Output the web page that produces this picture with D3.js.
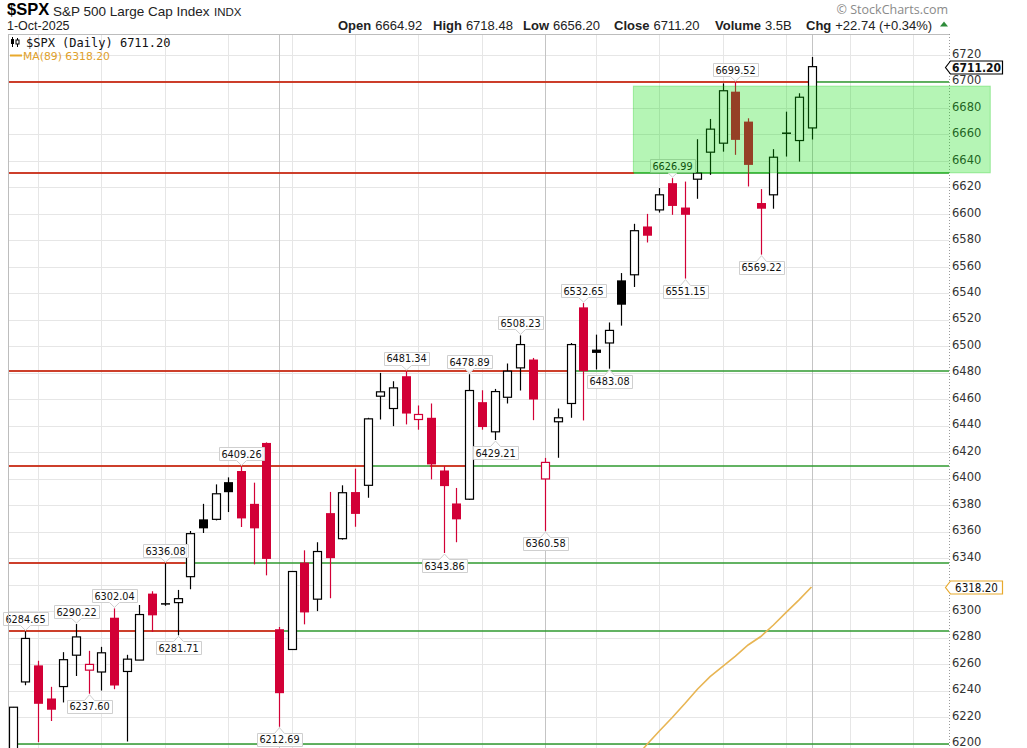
<!DOCTYPE html>
<html>
<head>
<meta charset="utf-8">
<script src="https://cdn.jsdelivr.net/npm/d3@7"></script>
<style>
  body { margin: 0; background: #fff; }
  svg { display: block; }
</style>
</head>
<body>
<svg id="chart" width="1027" height="748"></svg>
<script>
// daily candles, 2-Jul-2025 .. 1-Oct-2025
const dates = [
  "2025-07-02","2025-07-03","2025-07-07","2025-07-08","2025-07-09","2025-07-10","2025-07-11",
  "2025-07-14","2025-07-15","2025-07-16","2025-07-17","2025-07-18","2025-07-21","2025-07-22",
  "2025-07-23","2025-07-24","2025-07-25","2025-07-28","2025-07-29","2025-07-30","2025-07-31",
  "2025-08-01","2025-08-04","2025-08-05","2025-08-06","2025-08-07","2025-08-08","2025-08-11",
  "2025-08-12","2025-08-13","2025-08-14","2025-08-15","2025-08-18","2025-08-19","2025-08-20",
  "2025-08-21","2025-08-22","2025-08-25","2025-08-26","2025-08-27","2025-08-28","2025-08-29",
  "2025-09-02","2025-09-03","2025-09-04","2025-09-05","2025-09-08","2025-09-09","2025-09-10",
  "2025-09-11","2025-09-12","2025-09-15","2025-09-16","2025-09-17","2025-09-18","2025-09-19",
  "2025-09-22","2025-09-23","2025-09-24","2025-09-25","2025-09-26","2025-09-29","2025-09-30",
  "2025-10-01"
];
// empty trading days to the right of the last candle
const futureDates = ["2025-10-02","2025-10-03","2025-10-06","2025-10-07","2025-10-08",
  "2025-10-09","2025-10-10","2025-10-13","2025-10-14","2025-10-15"];

const opens = [
  6191.0, 6246.5, 6259.0, 6234.0, 6243.0, 6266.7, 6255.4,
  6254.0, 6295.0, 6254.4, 6263.0, 6313.2, 6306.0, 6306.4,
  6326.0, 6369.3, 6369.3, 6397.4, 6405.8, 6381.0, 6427.0,
  6286.3, 6271.0, 6336.6, 6309.0, 6374.0, 6354.7, 6389.9,
  6395.0, 6462.3, 6453.0, 6477.4, 6444.7, 6446.0, 6406.2,
  6381.3, 6384.5, 6457.8, 6435.4, 6461.5, 6483.7, 6490.0,
  6399.8, 6443.0, 6456.8, 6529.4, 6497.5, 6502.5, 6549.8,
  6554.0, 6590.5, 6603.0, 6623.2, 6604.8, 6626.2, 6646.6,
  6653.4, 6692.3, 6669.7, 6608.2, 6614.4, 6661.5, 6655.4,
  6664.92
];
const highs = [
  6227.6, 6284.65, 6262.5, 6242.8, 6269.0, 6290.22, 6270.0,
  6273.0, 6302.04, 6267.0, 6304.6, 6315.0, 6336.08, 6316.0,
  6360.5, 6381.0, 6395.7, 6401.0, 6409.26, 6397.0, 6427.4,
  6288.0, 6330.0, 6345.9, 6352.0, 6390.0, 6395.0, 6407.6,
  6446.0, 6479.9, 6473.6, 6481.34, 6455.3, 6456.8, 6409.5,
  6393.0, 6478.89, 6466.8, 6467.8, 6487.0, 6508.23, 6491.2,
  6415.7, 6453.0, 6502.5, 6532.65, 6508.8, 6518.0, 6555.3,
  6592.5, 6600.0, 6619.5, 6626.99, 6624.4, 6656.4, 6671.7,
  6698.6, 6699.52, 6672.2, 6618.7, 6648.9, 6677.2, 6691.1,
  6718.48
];
const lows = [
  6187.0, 6244.0, 6201.0, 6217.0, 6231.0, 6251.0, 6237.60,
  6240.0, 6241.0, 6201.5, 6263.0, 6284.3, 6304.0, 6281.71,
  6316.5, 6359.0, 6368.5, 6374.8, 6363.5, 6335.3, 6327.0,
  6212.69, 6271.0, 6290.0, 6300.0, 6309.7, 6354.0, 6363.7,
  6385.6, 6444.7, 6439.7, 6441.0, 6437.0, 6399.5, 6343.86,
  6352.0, 6384.0, 6437.0, 6429.21, 6456.8, 6466.6, 6444.2,
  6360.58, 6415.8, 6446.0, 6444.0, 6482.5, 6483.08, 6515.6,
  6544.8, 6578.4, 6601.0, 6599.3, 6551.15, 6611.4, 6629.5,
  6647.0, 6644.6, 6620.7, 6569.22, 6603.9, 6643.3, 6639.5,
  6656.20
];
const closes = [
  6227.4, 6279.35, 6229.98, 6225.5, 6263.3, 6280.5, 6259.75,
  6268.5, 6243.8, 6263.7, 6297.4, 6296.8, 6305.6, 6309.4,
  6358.5, 6362.5, 6388.6, 6389.8, 6370.0, 6362.5, 6339.4,
  6238.0, 6329.9, 6299.0, 6345.0, 6340.0, 6389.4, 6373.4,
  6445.2, 6465.6, 6468.6, 6449.2, 6448.5, 6410.8, 6394.4,
  6369.3, 6466.6, 6439.0, 6465.8, 6481.2, 6501.3, 6459.8,
  6412.3, 6446.0, 6501.3, 6481.2, 6495.0, 6512.0, 6531.4,
  6587.3, 6583.5, 6614.4, 6606.0, 6599.3, 6630.8, 6664.0,
  6693.0, 6655.9, 6637.0, 6603.9, 6642.8, 6661.0, 6688.1,
  6711.20
];
const prevClose = 6198.01;

// 89-day moving average (only the visible tail)
const ma89 = [
  null, null, null, null, null, null, null, null, null, null,
  null, null, null, null, null, null, null, null, null, null,
  null, null, null, null, null, null, null, null, null, null,
  null, null, null, null, null, null, null, null, null, null,
  null, null, null, null, null, null, null, null, null,
  6188.0, 6199.0, 6209.5, 6219.5, 6230.0, 6241.0, 6250.5,
  6258.3, 6266.0, 6274.4, 6280.8, 6289.5, 6299.0, 6308.3,
  6318.20
];

const yTicks = [6200, 6220, 6240, 6260, 6280, 6300, 6320, 6340, 6360, 6380, 6400,
  6420, 6440, 6460, 6480, 6500, 6520, 6540, 6560, 6580, 6600, 6620, 6640, 6660,
  6680, 6700, 6720];

// support / resistance levels
const levels = [6699.52, 6631.0, 6481.34, 6409.26, 6336.08, 6284.65, 6200.0];
// red stretches on those levels: [level, from index, to index]
const redStretches = [
  [6699.52, -0.4, 63], [6631.0, -0.4, 49], [6481.34, -0.4, 44.1],
  [6409.26, -0.4, 28.2], [6409.26, 32.9, 36.1], [6336.08, -0.4, 13.6],
  [6284.65, -0.4, 21]
];
// highlighted zone
const zoneLow = 6631.0, zoneHigh = 6696.5;
const zoneFrom = 48.95, zoneTo = 77.1;

// labelled highs and lows: [candle index, which]
const callouts = [
  [1, "high"], [5, "high"], [6, "low"], [8, "high"], [12, "high"], [13, "low"],
  [18, "high"], [21, "low"], [31, "high"], [34, "low"], [36, "high"], [38, "low"],
  [40, "high"], [42, "low"], [45, "high"], [47, "low"], [52, "high"], [53, "low"],
  [57, "high"], [59, "low"]
];

const svg = d3.select("#chart");
const plot = { left: 8, right: 949, top: 34, bottom: 748 };

const x = d3.scaleLinear().domain([0, dates.length - 1]).range([12.7, 811.5]);
const y = d3.scaleLinear().domain([6200, 6720]).range([743.5, 55]);
const px = v => Math.round(v) + 0.5;

const RED = "#d20036";
const GREEN_LINE = "#2f9a2f";
const RED_LINE = "#f01818";

svg.append("defs").append("clipPath").attr("id", "clip")
  .append("rect")
  .attr("x", plot.left).attr("y", plot.top)
  .attr("width", plot.right - plot.left).attr("height", plot.bottom - plot.top);

let g = svg.append("g").attr("clip-path", "url(#clip)");

// horizontal grid
g.selectAll(".hgrid").data(yTicks).enter().append("line")
  .attr("class", "hgrid")
  .attr("x1", plot.left).attr("x2", plot.right)
  .attr("y1", d => px(y(d))).attr("y2", d => px(y(d)))
  .style("stroke", "#e6e6e6");

// vertical grid: a line at each new week, darker at each new month
const parse = d3.timeParse("%Y-%m-%d");
const allDates = dates.concat(futureDates);
let vlines = [];
allDates.forEach((d, i) => {
  if (i === 0) return;
  let a = parse(allDates[i - 1]), b = parse(d);
  if (b.getMonth() !== a.getMonth()) vlines.push({ i: i, month: true });
  else if (b.getDay() < a.getDay()) vlines.push({ i: i, month: false });
});
g.selectAll(".vgrid").data(vlines).enter().append("line")
  .attr("class", "vgrid")
  .attr("x1", d => px(x(d.i))).attr("x2", d => px(x(d.i)))
  .attr("y1", plot.top).attr("y2", plot.bottom)
  .style("stroke", d => d.month ? "#c4c4c4" : "#e6e6e6");

// level lines
g.selectAll(".level").data(levels).enter().append("line")
  .attr("class", "level")
  .attr("x1", plot.left).attr("x2", plot.right)
  .attr("y1", d => Math.round(y(d))).attr("y2", d => Math.round(y(d)))
  .style("stroke", GREEN_LINE).style("stroke-width", 1.6);
g.selectAll(".redlevel").data(redStretches).enter().append("line")
  .attr("class", "redlevel")
  .attr("x1", d => Math.max(plot.left, x(d[1]))).attr("x2", d => x(d[2]))
  .attr("y1", d => Math.round(y(d[0]))).attr("y2", d => Math.round(y(d[0])))
  .style("stroke", RED_LINE).style("stroke-width", 1.6);

// candles
const candles = dates.map((d, i) => {
  let pc = i === 0 ? prevClose : closes[i - 1];
  return {
    i: i, o: opens[i], h: highs[i], l: lows[i], c: closes[i],
    color: closes[i] < pc ? RED : "#000",
    hollow: closes[i] >= opens[i]
  };
});

let cg = g.selectAll(".candle").data(candles).enter().append("g").attr("class", "candle");
cg.append("line")
  .attr("x1", d => px(x(d.i))).attr("x2", d => px(x(d.i)))
  .attr("y1", d => y(d.h)).attr("y2", d => y(d.l))
  .style("stroke", d => d.color).style("stroke-width", 1.2);
cg.append("rect")
  .attr("x", d => d.hollow ? Math.round(x(d.i)) - 3.5 : Math.round(x(d.i)) - 4)
  .attr("width", d => d.hollow ? 8 : 9)
  .attr("y", d => y(Math.max(d.o, d.c)))
  .attr("height", d => Math.max(1.5, y(Math.min(d.o, d.c)) - y(Math.max(d.o, d.c))))
  .style("fill", d => d.hollow ? "#fff" : d.color)
  .style("stroke", d => d.hollow ? d.color : "none")
  .style("stroke-width", 1.2);

// moving average
const maLine = d3.line()
  .defined(d => d != null)
  .x((d, i) => x(i))
  .y(d => y(d));
g.append("path").datum(ma89)
  .attr("d", maLine)
  .style("fill", "none").style("stroke", "#e8b553").style("stroke-width", 1.6);

// callout boxes on highs and lows
let lg = svg.append("g");
callouts.forEach(function (c) {
  let i = c[0], isHigh = c[1] === "high";
  let v = isHigh ? highs[i] : lows[i];
  let cx = Math.round(x(i)) + 0.5;
  let tip = isHigh ? y(v) - 1 : y(v) + 1;
  let top, bottom;
  if (isHigh) { bottom = tip - 5; top = bottom - 13; }
  else { top = tip + 5; bottom = top + 13; }
  let grp = lg.append("g");
  let path = grp.append("path");
  let t = grp.append("text")
    .attr("x", cx).attr("y", top + 10.5)
    .attr("text-anchor", "middle")
    .style("font-family", "'DejaVu Sans Condensed', 'DejaVu Sans', sans-serif")
    .style("font-size", "10.8px").style("fill", "#111")
    .text(v.toFixed(2));
  let w = t.node().getComputedTextLength() + 5;
  let x0 = Math.round(cx - w / 2) + 0.5, x1 = Math.round(cx + w / 2) + 0.5;
  top = Math.round(top) + 0.5; bottom = Math.round(bottom) + 0.5;
  let d;
  if (isHigh) {
    d = `M${x0},${top}H${x1}V${bottom}H${cx + 5}L${cx},${tip}L${cx - 5},${bottom}H${x0}Z`;
  } else {
    d = `M${x0},${top}H${cx - 5}L${cx},${tip}L${cx + 5},${top}H${x1}V${bottom}H${x0}Z`;
  }
  path.attr("d", d).style("fill", "rgba(255,255,255,0.92)").style("stroke", "#cfcfcf");
});

// frame and right axis
svg.append("line").attr("x1", plot.left).attr("x2", plot.right)
  .attr("y1", plot.top + 0.5).attr("y2", plot.top + 0.5).style("stroke", "#bdbdbd");
svg.append("line").attr("x1", plot.left + 0.5).attr("x2", plot.left + 0.5)
  .attr("y1", plot.top).attr("y2", plot.bottom).style("stroke", "#bdbdbd");
svg.append("line").attr("x1", plot.right + 0.5).attr("x2", plot.right + 0.5)
  .attr("y1", plot.top).attr("y2", plot.bottom)
  .style("stroke", "#9a9a9a").style("stroke-dasharray", "1,2");

// tick labels sitting under a price tag are hidden, as on the original
const tagValues = [closes[closes.length - 1], ma89[ma89.length - 1]];
const labelTicks = yTicks.filter(t => !tagValues.some(v => Math.abs(y(t) - y(v)) < 6));

let yAxis = d3.axisRight(y).tickValues(labelTicks).tickSize(0).tickPadding(3)
  .tickFormat(d3.format("d"));
let ag = svg.append("g").attr("transform", `translate(${plot.right},-1.5)`).call(yAxis);
ag.select(".domain").remove();
ag.selectAll("text")
  .style("font-family", "'DejaVu Sans', sans-serif")
  .style("font-size", "11.5px").style("fill", "#333");

// highlighted zone on top, translucent
svg.append("rect")
  .attr("x", x(zoneFrom)).attr("width", x(zoneTo) - x(zoneFrom))
  .attr("y", y(zoneHigh)).attr("height", y(zoneLow) - y(zoneHigh))
  .style("fill", "rgb(0,222,0)").style("fill-opacity", 0.29)
  .style("stroke", "rgb(0,200,0)").style("stroke-opacity", 0.3);

// price tags on the axis
function tag(v, label, border, bold) {
  let yc = Math.round(y(v)) + 0.5;
  let x0 = 945.5, x1 = 1002.5;
  svg.append("path")
    .attr("d", `M${x0},${yc}L${x0 + 5},${yc - 6.5}H${x1}V${yc + 6.5}H${x0 + 5}Z`)
    .style("fill", "#fff").style("stroke", border).style("stroke-width", 1.2);
  svg.append("text")
    .attr("x", (x0 + 5 + x1) / 2).attr("y", yc + 4.5)
    .attr("text-anchor", "middle")
    .style("font-family", "'DejaVu Sans Condensed', 'DejaVu Sans', sans-serif")
    .style("font-size", bold ? "12px" : "11.5px")
    .style("font-weight", bold ? "bold" : "normal")
    .style("fill", "#111")
    .text(label);
}
tag(tagValues[0], tagValues[0].toFixed(2), "#000", true);
tag(tagValues[1], tagValues[1].toFixed(2), "#e8a92c", false);

// header
const arial = "'Liberation Sans', Arial, sans-serif";
svg.append("text").attr("x", 7).attr("y", 15)
  .style("font-family", arial).style("font-size", "16.5px").style("font-weight", "bold")
  .text("$SPX");
svg.append("text").attr("x", 53).attr("y", 15.5)
  .style("font-family", arial).style("font-size", "13.5px").style("fill", "#222")
  .text("S&P 500 Large Cap Index");
svg.append("text").attr("x", 214).attr("y", 15.5)
  .style("font-family", arial).style("font-size", "11.5px").style("fill", "#222")
  .text("INDX");

svg.append("text").attr("x", 7).attr("y", 30)
  .style("font-family", arial).style("font-size", "12.5px").style("fill", "#222")
  .text("1-Oct-2025");

svg.append("text").attr("x", 948).attr("y", 14).attr("text-anchor", "end")
  .style("font-family", "'Open Sans', sans-serif").style("font-size", "12.5px")
  .style("fill", "#8a8a8a")
  .text("\u00A9 StockCharts.com");

const quoteNames = ["Open", "High", "Low", "Close", "Volume", "Chg"];
const quoteValues = ["6664.92", "6718.48", "6656.20", "6711.20", "3.5B", "+22.74 (+0.34%)"];
const quoteX = [338, 433, 523, 614, 715, 806];
let qt = svg.append("text").attr("y", 29.5)
  .style("font-family", arial).style("font-size", "13px").style("fill", "#222");
quoteNames.forEach((n, k) => {
  qt.append("tspan").attr("x", quoteX[k]).style("font-weight", "bold").text(n);
  qt.append("tspan").attr("dx", 4).text(quoteValues[k]);
});
svg.append("path").attr("d", "M940,26.5L944,21.5L948,26.5Z").style("fill", "#2e8b3a");

// legend inside the plot
let leg = svg.append("g");
leg.append("line").attr("x1", 12.5).attr("x2", 12.5).attr("y1", 37).attr("y2", 47).style("stroke", "#000");
leg.append("rect").attr("x", 11).attr("y", 39).attr("width", 3).attr("height", 5).style("fill", "#000");
leg.append("line").attr("x1", 17.5).attr("x2", 17.5).attr("y1", 38).attr("y2", 47).style("stroke", "#000");
leg.append("rect").attr("x", 16).attr("y", 40).attr("width", 3).attr("height", 4)
  .style("fill", "#fff").style("stroke", "#000");
leg.append("text").attr("x", 26).attr("y", 46.5)
  .style("font-family", "'DejaVu Sans Mono', monospace").style("font-size", "12px").style("fill", "#111")
  .text("$SPX (Daily) 6711.20");
leg.append("line").attr("x1", 10).attr("x2", 22).attr("y1", 55.5).attr("y2", 55.5)
  .style("stroke", "#e8a92c").style("stroke-width", 2);
leg.append("text").attr("x", 23).attr("y", 59.5)
  .style("font-family", "'DejaVu Sans', sans-serif").style("font-size", "10.8px").style("fill", "#e0a02a")
  .text("MA(89) 6318.20");
</script>
</body>
</html>
